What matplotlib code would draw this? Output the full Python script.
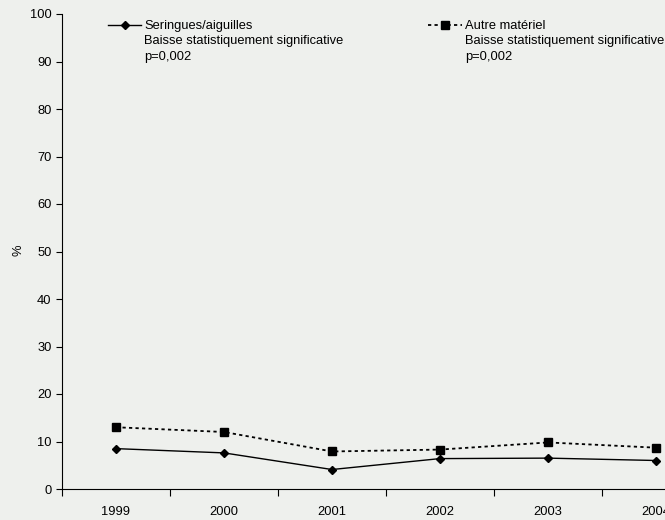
import matplotlib.pyplot as plt
from matplotlib.lines import Line2D

years = ['1999', '2000', '2001', '2002', '2003', '2004']
seringues = [8.5, 7.6, 4.1, 6.4, 6.5, 6.0]
autre = [13.0, 12.0, 7.9, 8.3, 9.8, 8.7]

label_ser = 'Seringues/aiguilles\nBaisse statistiquement significative\np=0,002'
label_autre = 'Autre matériel\nBaisse statistiquement significative\np=0,002'

plt.rcParams['font.family'] = ['Liberation Sans', 'DejaVu Sans']
plt.rcParams['font.size'] = 9.3

bg = '#eef0ed'
fig = plt.figure(figsize=(6.65, 5.2), dpi=100, facecolor=bg)
# axes run past the right edge, as in the original crop
ax = fig.add_axes([62 / 665, 31 / 520, 648 / 665, 475 / 520])
ax.set_facecolor('none')

x = list(range(len(years)))
dash = (0, (1.8, 1.8))
ax.plot(x, seringues, color='black', lw=1.0, marker='D', ms=3.8, clip_on=False)
ax.plot(x, autre, color='black', lw=1.3, ls=dash, marker='s', ms=5.2, clip_on=False)

ax.set_xlim(-0.5, len(years) - 0.5)
ax.set_ylim(0, 100)
ax.set_yticks(range(0, 101, 10))
ax.set_xticks([i - 0.5 for i in range(len(years) + 1)])
ax.set_xticklabels([])
ax.set_xticks(x, minor=True)
ax.set_xticklabels(years, minor=True)
ax.tick_params(axis='x', which='minor', length=0, pad=12)
ax.tick_params(axis='x', which='major', length=5, direction='out')
ax.tick_params(axis='y', length=4, direction='out')
for s in ['top', 'right']:
    ax.spines[s].set_visible(False)

fig.text(18 / 665, 1 - 250 / 520, '%', rotation=90, ha='center', va='center')

# legend drawn by hand so the handle sits beside the first line
for hx, tx, style, mk, ms, lw, lab in [
    (108, 144, '-', 'D', 3.8, 1.0, label_ser),
    (428, 465, dash, 's', 5.2, 1.3, label_autre),
]:
    yy = 1 - 25 / 520
    fig.add_artist(Line2D([hx / 665, (tx - 3) / 665], [yy, yy], color='black',
                          lw=lw, ls=style, transform=fig.transFigure))
    fig.add_artist(Line2D([(hx + tx - 3) / 2 / 665], [yy], color='black', marker=mk,
                          ms=ms, transform=fig.transFigure))
    fig.text(tx / 665, 1 - 20 / 520, lab, ha='left', va='top', linespacing=1.38)

fig.savefig('out.png', dpi=100, facecolor=bg)
